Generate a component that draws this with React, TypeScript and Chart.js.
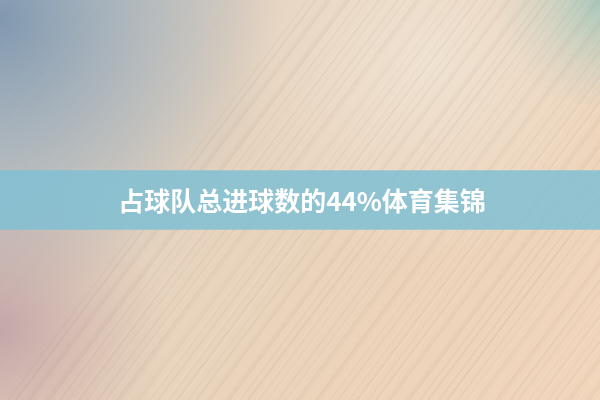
import { useEffect, useRef } from 'react';
import { Chart, registerables } from 'chart.js';

Chart.register(...registerables);

// banner content
const categories = ['占球队总进球数的44%体育集锦'];
const bandStart = [0];
const bandEnd = [100];

const backdropPlugin = {
  id: 'backdrop',
  beforeDraw(chart: any) {
    const { ctx, width, height } = chart;
    ctx.save();
    // base warm gradient
    const base = ctx.createLinearGradient(0, 0, width, height);
    base.addColorStop(0, '#c4c4c6');
    base.addColorStop(0.35, '#e6d3be');
    base.addColorStop(0.7, '#ecd3ba');
    base.addColorStop(1, '#f1d6bc');
    ctx.fillStyle = base;
    ctx.fillRect(0, 0, width, height);

    // blue-grey corner top left
    let g = ctx.createRadialGradient(0, 20, 0, 0, 20, 280);
    g.addColorStop(0, 'rgba(125,150,175,0.95)');
    g.addColorStop(0.5, 'rgba(150,170,185,0.55)');
    g.addColorStop(1, 'rgba(160,175,185,0)');
    ctx.fillStyle = g;
    ctx.fillRect(0, 0, width, height);

    // teal corner top right
    g = ctx.createRadialGradient(width, 0, 0, width, 0, 110);
    g.addColorStop(0, 'rgba(150,195,185,0.85)');
    g.addColorStop(1, 'rgba(170,200,190,0)');
    ctx.fillStyle = g;
    ctx.fillRect(0, 0, width, height);

    // pale light area top right-centre
    g = ctx.createRadialGradient(430, 60, 0, 430, 60, 200);
    g.addColorStop(0, 'rgba(242,232,218,0.7)');
    g.addColorStop(1, 'rgba(242,232,218,0)');
    ctx.fillStyle = g;
    ctx.fillRect(0, 0, width, height);

    // mauve bottom left
    g = ctx.createRadialGradient(0, 330, 0, 0, 330, 170);
    g.addColorStop(0, 'rgba(185,150,160,0.7)');
    g.addColorStop(1, 'rgba(200,165,160,0)');
    ctx.fillStyle = g;
    ctx.fillRect(0, 0, width, height);

    // brushed streak texture
    const slope = 0.75;
    for (let i = -60; i < 160; i++) {
      const x0 = i * 6 + ((i * 7) % 5);
      const a = 0.06 + ((i * 37) % 11) / 90;
      ctx.strokeStyle = (i % 3 === 0) ? `rgba(255,255,255,${a})` : `rgba(140,115,105,${a * 0.55})`;
      ctx.lineWidth = 1 + ((i * 13) % 3) * 0.5;
      ctx.beginPath();
      ctx.moveTo(x0, height);
      ctx.lineTo(x0 + height * slope, 0);
      ctx.stroke();
    }
    ctx.restore();
  },
};

const labelPlugin = {
  id: 'bandLabel',
  afterDatasetsDraw(chart: any) {
    const { ctx } = chart;
    const el = chart.getDatasetMeta(0).data[0];
    if (!el) return;
    ctx.save();
    ctx.fillStyle = '#ffffff';
    ctx.font = 'bold 26px "Noto Sans CJK SC", "Noto Sans", sans-serif';
    ctx.textAlign = 'center';
    ctx.textBaseline = 'middle';
    ctx.fillText(chart.data.labels[0], 302, el.y + 1);
    ctx.restore();
  },
};

export default function App() {
  const chartRef = useRef<HTMLCanvasElement>(null);
  const chartInstance = useRef<Chart | null>(null);

  useEffect(() => {
    document.body.style.margin = '0';
    if (!chartRef.current) return;
    if (chartInstance.current) chartInstance.current.destroy();
    const ctx = chartRef.current.getContext('2d');
    if (!ctx) return;

    chartInstance.current = new Chart(ctx, {
      type: 'bar',
      data: {
        labels: categories,
        datasets: [{
          data: categories.map((_, i) => [bandStart[i], bandEnd[i]]),
          backgroundColor: 'rgba(128,192,212,0.85)',
          borderWidth: 0,
          barThickness: 59,
        }],
      },
      options: {
        indexAxis: 'y',
        responsive: true,
        maintainAspectRatio: false,
        animation: false,
        layout: { padding: 0 },
        plugins: {
          legend: { display: false },
          tooltip: { enabled: false },
        },
        scales: {
          x: { display: false, min: 0, max: 100 },
          y: { display: false },
        },
      },
      plugins: [backdropPlugin, labelPlugin],
    });

    return () => {
      if (chartInstance.current) {
        chartInstance.current.destroy();
        chartInstance.current = null;
      }
    };
  }, []);

  return (
    <div style={{ position: 'relative', width: 600, height: 400 }}>
      <canvas ref={chartRef} />
    </div>
  );
}
